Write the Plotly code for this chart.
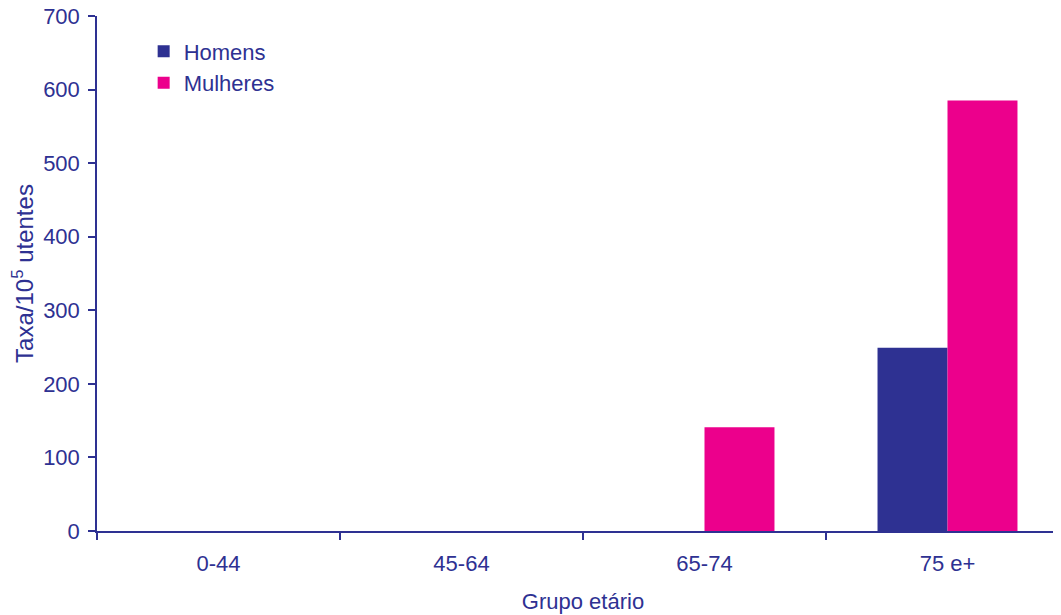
import plotly.graph_objects as go

# data
grupos = ["0-44", "45-64", "65-74", "75 e+"]
homens = [0, 0, 0, 249]
mulheres = [0, 0, 141, 585]

azul = "#2E3192"
rosa = "#EC008C"
fonte = dict(family="Liberation Sans, Arial, sans-serif", size=22, color=azul)

fig = go.Figure()
fig.add_trace(go.Bar(x=grupos, y=homens, name="Homens", marker_color=azul, marker_line_width=0))
fig.add_trace(go.Bar(x=grupos, y=mulheres, name="Mulheres", marker_color=rosa, marker_line_width=0))

# the page body adds an 8px offset, so margins are trimmed by 8
fig.update_layout(
    width=1061, height=615,
    margin=dict(l=89, r=0, t=8, b=92),
    plot_bgcolor="white", paper_bgcolor="white",
    font=fonte,
    barmode="group", bargap=0.424, bargroupgap=0,
    legend=dict(x=0.048, y=0.972, xanchor="left", yanchor="top",
                bgcolor="rgba(0,0,0,0)", font=fonte),
    showlegend=True,
)
fig.update_xaxes(
    range=[-0.5, 3.5], showline=True, linecolor=azul, linewidth=1.5,
    ticks="outside", tickson="boundaries", ticklen=7, tickcolor=azul, tickwidth=1.5,
    ticklabelstandoff=12, showgrid=False, automargin=False,
    title=dict(text="Grupo etário", standoff=18, font=fonte),
)
fig.update_yaxes(
    range=[0, 700], dtick=100, showline=True, linecolor=azul, linewidth=1.5,
    ticks="outside", ticklen=7, tickcolor=azul, tickwidth=1.5,
    ticklabelstandoff=4, ticklabeloverflow="allow", showgrid=False, zeroline=False,
    automargin=False,
    title=dict(text="Taxa/10<sup>5</sup> utentes", standoff=3,
               font=dict(family=fonte["family"], size=24, color=azul)),
)

fig.write_html("out.html")
